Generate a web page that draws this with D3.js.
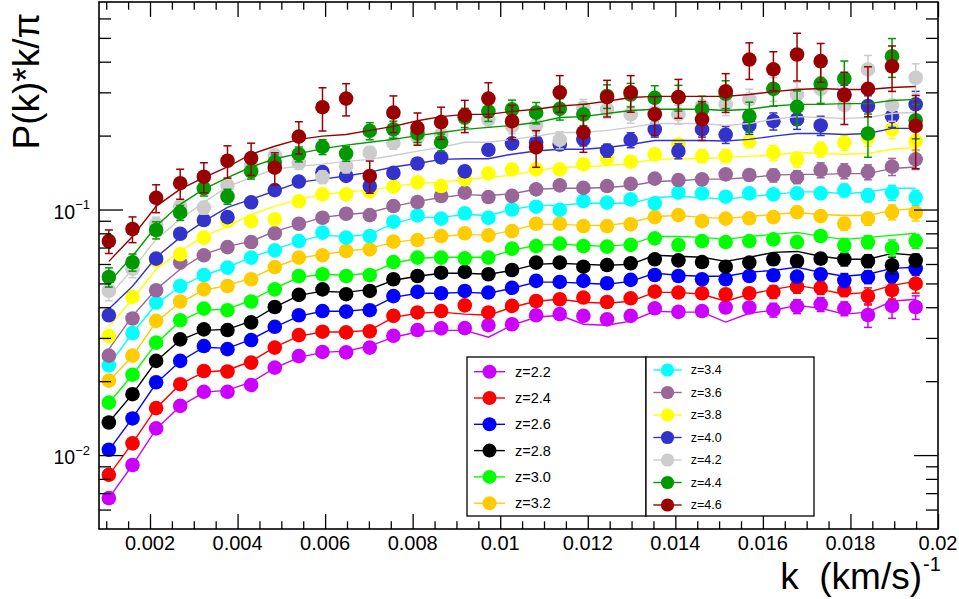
<!DOCTYPE html>
<html><head><meta charset="utf-8">
<script src="https://cdn.jsdelivr.net/npm/d3@7"></script>
<style>body{margin:0;background:#fff}svg{display:block;font-family:"Liberation Sans",Arial,Helvetica,sans-serif}</style>
</head><body><svg id="c" width="959" height="599"></svg>
<script>
// ---------------- data ----------------
const kValues = [0.00106,0.00160,0.00214,0.00269,0.00323,0.00377,0.00431,0.00485,0.00540,0.00594,
  0.00648,0.00702,0.00756,0.00811,0.00865,0.00919,0.00973,0.01027,0.01082,0.01136,
  0.01190,0.01244,0.01298,0.01353,0.01407,0.01461,0.01515,0.01569,0.01624,0.01678,
  0.01732,0.01786,0.01840,0.01895,0.01949];
const seriesLabels = ["z=2.2","z=2.4","z=2.6","z=2.8","z=3.0","z=3.2","z=3.4","z=3.6","z=3.8","z=4.0","z=4.2","z=4.4","z=4.6"];
const xTickValues = [0.002,0.004,0.006,0.008,0.01,0.012,0.014,0.016,0.018,0.02];
const xTickLabels = ["0.002","0.004","0.006","0.008","0.01","0.012","0.014","0.016","0.018","0.02"];
const xMinorTicks = [0.001,0.0015,0.0025,0.003,0.0035,0.0045,0.005,0.0055,0.0065,0.007,0.0075,0.0085,0.009,0.0095,
  0.0105,0.011,0.0115,0.0125,0.013,0.0135,0.0145,0.015,0.0155,0.0165,0.017,0.0175,0.0185,0.019,0.0195];
const yTickValues = [0.01,0.1];
const yTickExponents = ["\u22122","\u22121"];
const yMinorTicks = [0.006,0.007,0.008,0.009,0.02,0.03,0.04,0.05,0.06,0.07,0.08,0.09,0.2,0.3,0.4,0.5,0.6];

// data points P(k)*k/pi
const p22 = [0.00668,0.00911,0.01284,0.01587,0.0181,0.0181,0.0193,0.0227,0.0253,0.0263,0.0262,0.0274,0.0306,0.0323,0.0328,0.0329,0.0338,0.0341,0.0371,0.0375,0.0369,0.0357,0.0369,0.0396,0.0383,0.0386,0.0399,0.0399,0.0390,0.0403,0.0411,0.0395,0.0372,0.0405,0.0401];
const p24 = [0.00831,0.01116,0.01553,0.01944,0.0220,0.0219,0.0238,0.0274,0.0308,0.0318,0.0316,0.0319,0.0369,0.0381,0.0386,0.0407,0.0381,0.0405,0.0424,0.0431,0.0438,0.0420,0.0435,0.0463,0.0459,0.0456,0.0452,0.0456,0.0462,0.0485,0.0480,0.0470,0.0444,0.0470,0.0499];
const p26 = [0.01051,0.0141,0.0198,0.0242,0.0278,0.0270,0.0294,0.0333,0.0371,0.0386,0.0384,0.0389,0.0444,0.0462,0.0456,0.0466,0.0459,0.0480,0.0512,0.0507,0.0512,0.0501,0.0517,0.0541,0.0536,0.0520,0.0520,0.0536,0.0540,0.0533,0.0545,0.0515,0.0531,0.0536,0.0575];
const p28 = [0.01357,0.0177,0.0242,0.0296,0.0325,0.0323,0.0347,0.0401,0.0449,0.0473,0.0452,0.0466,0.0520,0.0536,0.0553,0.0557,0.0545,0.0567,0.0608,0.0608,0.0585,0.0594,0.0604,0.0627,0.0621,0.0611,0.0585,0.0608,0.0627,0.0617,0.0631,0.0627,0.0617,0.0593,0.0621];
const p30 = [0.01635,0.02125,0.0287,0.0354,0.0395,0.0389,0.0422,0.0473,0.0536,0.0545,0.0536,0.0541,0.0611,0.0637,0.0637,0.0633,0.0637,0.0693,0.0710,0.0726,0.0710,0.0706,0.0718,0.0763,0.0717,0.0744,0.0737,0.0744,0.0756,0.0737,0.0780,0.0715,0.0737,0.0699,0.0744];
const p32 = [0.0201,0.0254,0.0352,0.0422,0.0473,0.0488,0.0520,0.0583,0.0637,0.0651,0.0678,0.0688,0.0740,0.0751,0.0780,0.0800,0.0785,0.0817,0.0875,0.0875,0.0856,0.0856,0.0870,0.0931,0.0949,0.0897,0.0918,0.0921,0.0931,0.0976,0.0940,0.0875,0.0918,0.0976,0.0971];
const p34 = [0.0232,0.0314,0.0418,0.0488,0.0541,0.0580,0.0637,0.0682,0.0744,0.0805,0.0768,0.0780,0.0892,0.0946,0.0918,0.0965,0.0926,0.1000,0.1027,0.0997,0.1083,0.1067,0.110,0.106,0.1172,0.1164,0.1128,0.1164,0.1153,0.1164,0.1164,0.1197,0.1142,0.1172,0.1118];
const p36 = [0.0254,0.0360,0.0469,0.0608,0.0651,0.0703,0.0737,0.0800,0.0875,0.0926,0.0961,0.0949,0.1033,0.1073,0.1135,0.1172,0.1124,0.1137,0.1208,0.1254,0.1225,0.1246,0.1272,0.1336,0.1318,0.1327,0.139,0.1382,0.1378,0.1356,0.1448,0.1435,0.1421,0.1495,0.1600];
const p38 = [0.0305,0.0441,0.0621,0.0657,0.0768,0.0897,0.0897,0.0913,0.108,0.1153,0.1153,0.1186,0.1239,0.129,0.1246,0.1327,0.1404,0.1457,0.1457,0.1457,0.1527,0.1611,0.1566,0.1677,0.1842,0.1651,0.1651,0.1899,0.1704,0.1600,0.1758,0.1872,0.1967,0.2119,0.1899];
const p40 = [0.0371,null,0.0631,0.0797,0.0906,0.0931,0.107,0.120,0.130,0.142,0.137,0.1246,0.141,0.154,0.163,0.143,0.175,0.186,0.188,0.184,0.193,0.174,0.192,0.212,0.173,0.212,0.202,0.220,0.229,0.233,0.220,0.294,0.264,0.240,0.268];
const p42 = [0.0467,0.0573,0.0870,0.1033,0.1018,0.1254,0.151,0.166,0.155,0.1356,0.150,0.1704,0.1872,0.1967,0.202,0.240,0.233,0.219,0.220,0.192,0.260,0.256,0.244,0.249,0.244,0.264,0.268,0.281,0.310,0.294,0.310,0.266,0.372,0.266,0.344];
const p44 = [0.0531,0.0610,0.0825,0.0971,0.122,0.113,0.143,0.156,0.168,0.180,0.169,0.209,0.212,0.204,0.188,0.237,0.251,0.256,0.248,0.257,0.244,0.290,0.294,0.285,0.286,0.256,0.296,0.240,0.310,0.262,0.325,0.341,0.204,0.421,0.231];
const p46 = [0.0744,0.0833,0.1116,0.128,0.136,0.158,0.162,0.148,0.198,0.261,0.283,0.137,0.248,0.215,0.227,0.242,0.283,0.229,0.179,0.300,0.206,0.287,0.300,0.244,0.287,0.233,0.303,0.408,0.372,0.428,0.402,0.292,0.310,0.383,0.219];

// model curves
const m22 = [0.00668,0.00911,0.01276,0.01582,0.0180,0.01838,0.0198,0.0226,0.0250,0.0262,0.0265,0.0278,0.0302,0.0317,0.0322,0.0322,0.0302,0.0338,0.0364,0.0371,0.0341,0.0338,0.0351,0.0385,0.0382,0.0382,0.0348,0.0378,0.0389,0.0407,0.0396,0.0375,0.0382,0.0423,0.0431];
const m24 = [0.00829,0.01119,0.01553,0.01944,0.02175,0.02216,0.0241,0.0275,0.0305,0.0317,0.0317,0.0322,0.0364,0.0378,0.0382,0.0375,0.0371,0.0400,0.0423,0.0431,0.0419,0.0415,0.0423,0.0460,0.0460,0.0452,0.0423,0.0452,0.0473,0.0491,0.0473,0.0452,0.0460,0.0491,0.0510];
const m26 = [0.01048,0.01414,0.0196,0.0241,0.0275,0.0272,0.0296,0.0332,0.0368,0.0385,0.0385,0.0393,0.0439,0.0456,0.0456,0.0460,0.0456,0.0478,0.0506,0.0506,0.0501,0.0496,0.0510,0.0550,0.0540,0.0535,0.0535,0.0555,0.0565,0.0582,0.0555,0.0535,0.0545,0.0576,0.0582];
const m28 = [0.0136,0.0177,0.0241,0.0294,0.0322,0.0325,0.0351,0.0400,0.0447,0.0465,0.0460,0.0473,0.0515,0.0535,0.0550,0.0550,0.0545,0.0565,0.0598,0.0604,0.0598,0.0593,0.0598,0.0651,0.0645,0.0639,0.0615,0.0639,0.0669,0.0675,0.0645,0.0627,0.0627,0.0663,0.0651];
const m30 = [0.0163,0.0212,0.0285,0.0351,0.0389,0.0393,0.0427,0.0478,0.0529,0.0545,0.0540,0.0550,0.0604,0.0633,0.0639,0.0639,0.0639,0.0682,0.0715,0.0721,0.0715,0.0708,0.0721,0.0777,0.0777,0.0770,0.0756,0.0777,0.0792,0.0807,0.0777,0.0756,0.0770,0.0785,0.0800];
const m32 = [0.0200,0.0253,0.0348,0.0419,0.0469,0.0491,0.0525,0.0582,0.0633,0.0657,0.0676,0.0695,0.0735,0.0756,0.0777,0.0792,0.0785,0.0822,0.0870,0.0870,0.0862,0.0862,0.0885,0.0937,0.0946,0.0929,0.0920,0.0937,0.0955,0.0973,0.0955,0.0946,0.0946,0.0992,0.101];
const m34 = [0.0232,0.0314,0.0411,0.0487,0.0540,0.0582,0.0639,0.0688,0.0742,0.0785,0.0777,0.0792,0.0878,0.0929,0.0929,0.0955,0.0946,0.100,0.104,0.104,0.106,0.106,0.106,0.112,0.113,0.112,0.110,0.113,0.115,0.118,0.118,0.116,0.118,0.122,0.122];
const m36 = [0.0270,0.0368,0.0473,0.0571,0.0657,0.0708,0.0742,0.0815,0.0870,0.0929,0.0955,0.0973,0.103,0.108,0.112,0.115,0.114,0.116,0.121,0.122,0.122,0.123,0.125,0.130,0.131,0.133,0.133,0.135,0.138,0.139,0.139,0.140,0.140,0.147,0.149];
const m38 = [0.0334,0.0431,0.0571,0.0676,0.0777,0.0854,0.0955,0.103,0.110,0.115,0.118,0.120,0.124,0.128,0.129,0.133,0.135,0.138,0.144,0.149,0.149,0.151,0.154,0.160,0.161,0.161,0.163,0.165,0.166,0.171,0.169,0.168,0.169,0.176,0.179];
const m40 = [0.0393,0.0487,0.0639,0.0770,0.0895,0.102,0.110,0.119,0.129,0.133,0.137,0.142,0.149,0.154,0.160,0.161,0.161,0.168,0.173,0.176,0.176,0.179,0.184,0.191,0.191,0.191,0.190,0.193,0.199,0.204,0.204,0.202,0.204,0.214,0.214];
const m42 = [0.0443,0.0571,0.0756,0.0913,0.107,0.124,0.135,0.146,0.150,0.153,0.157,0.160,0.166,0.173,0.179,0.188,0.188,0.193,0.199,0.206,0.206,0.210,0.216,0.224,0.224,0.224,0.220,0.224,0.233,0.239,0.237,0.235,0.237,0.246,0.249];
const m44 = [0.0505,0.0645,0.0854,0.105,0.121,0.135,0.149,0.161,0.169,0.177,0.183,0.188,0.193,0.200,0.206,0.212,0.216,0.220,0.226,0.237,0.239,0.246,0.253,0.256,0.256,0.256,0.253,0.256,0.264,0.268,0.268,0.270,0.270,0.278,0.281];
const m46 = [0.0615,0.0777,0.103,0.121,0.135,0.149,0.168,0.181,0.193,0.199,0.202,0.210,0.218,0.230,0.239,0.244,0.244,0.251,0.256,0.264,0.268,0.276,0.286,0.289,0.289,0.289,0.289,0.294,0.302,0.308,0.311,0.308,0.308,0.314,0.317];

// relative errors in percent
const e22 = [1,1,1,1,1,1,1,1,1,1,1,1.5,1.5,1.5,1.5,1.5,1.5,2,2,2,2,3,3,4,4,4,5,5,6.5,6.5,6.5,6.5,11,11,11];
const e24 = [1,1,1,1,1,1,1,1,1,1,1,1,1,1,1,1,1,2,2,2,2,3,3,3,4,4,4,4,6,6,6,6,8,8,8.5];
const e26 = [1,1,1,1,1,1,1,1,1,1,1,1,1,1,1,1,1,2,2,2,2,2.5,3,3,3.5,3.5,4,4,5,5,5,6.5,6,6,6];
const e28 = [1,1,1,1,1,1,1,1,1,1,1,1,1,1,1,1,1,2,2,2,2,2.5,3,3,3.5,3.5,4,4,5,5,5,6,6,8,6];
const e30 = [1,1,1,1,1,1,1,1,1,1,1,1,1,1,1,1,1,2,2,2,2,2.5,3,3,3.5,3.5,4,4,5,5,5,6.5,6,7.5,6.5];
const e32 = [1,1,1,1,1,1,1,1,1,1,1,1,1,1,1,1,1.5,2,2,2,2,2.5,3,3,3.5,3.5,4,4,5,5,5,6,6,7,7.5];
const e34 = [1,1,1,1,1,1,1,1,1,1,1,1.5,1.5,1.5,1.5,1.5,2,2,2,2.5,2.5,3,3,3.5,3.5,4,4,4.5,5,5,5,6,6,7,7];
const e36 = [1.5,1.5,1.5,1.5,1.5,1.5,1.5,1.5,1.5,1.5,1.5,1.5,2,2,2,2,2,3,3,3,3,4,4,4,4,5,5,5,6,6,7,7,7,8,9];
const e38 = [2,2,2,2,2,2,2,2,2,2,3,3,3,3,3,3,3,4,4,4,4,5,5,5,5,6,6,6,7,7,7,7,8,8,9];
const e40 = [3,3,3,3,3,3,4,4,4,4,4,4,5,5,5,5,5,5,5,5,6,6,7,7,7,7,8,8,8,9,9,9,10,10,13];
const e42 = [9,8,7,6,6,6,6,6,6,6,6,6,6,6,7,7,7,7,7,8,8,8,8,9,9,9,10,10,11,12,12,12,14,14,14];
const e44 = [9,8,8,7,7,7,7,7,7,7,7,8,8,8,8,9,9,9,10,10,10,11,11,12,12,13,13,14,15,16,17,18,20,18,16];
const e46 = [11,12,13,14,14,15,15,15,15,20,15,15,17,15,15,15,16,16,17,17,17,17,17,18,18,18,18,17,18,22,18,24,23,21,33];

// ---------------- styles ----------------
const seriesColors = ["#cc00ff","#ff0000","#0000ff","#000000","#00ff00","#ffcc00","#00ffff","#996699","#ffff00","#3333cc","#cccccc","#009900","#990000"];
const pointSets = [p22,p24,p26,p28,p30,p32,p34,p36,p38,p40,p42,p44,p46];
const modelSets = [m22,m24,m26,m28,m30,m32,m34,m36,m38,m40,m42,m44,m46];
const errorSets = [e22,e24,e26,e28,e30,e32,e34,e36,e38,e40,e42,e44,e46];
const series = seriesLabels.map((label,i)=>({label,color:seriesColors[i],values:pointSets[i],model:modelSets[i],errors:errorSets[i]}));

const frame = {left:99, right:938, top:2, bottom:529};
const x = d3.scaleLinear().domain([0.000835,0.02]).range([frame.left,frame.right]);
const y = d3.scaleLog().domain([0.005,0.7]).range([frame.bottom,frame.top]);

const svg = d3.select("#c");
svg.append("rect").attr("width",959).attr("height",599).attr("fill","#fff");
svg.append("defs").append("clipPath").attr("id","clip").append("rect")
  .attr("x",frame.left).attr("y",frame.top).attr("width",frame.right-frame.left).attr("height",frame.bottom-frame.top);

const plot = svg.append("g").attr("clip-path","url(#clip)");
const line = d3.line().defined(d=>d[1]!=null).x(d=>x(d[0])).y(d=>y(d[1]));
const R = 7.3, CAP = 4;

series.forEach(s=>{
  const gs = plot.append("g");
  gs.append("path").datum(kValues.map((k,i)=>[k,s.model[i]])).attr("d",line)
    .attr("fill","none").attr("stroke",s.color).attr("stroke-width",1.4);
  const pts = kValues.map((k,i)=>({k,v:s.values[i],e:s.errors[i]})).filter(d=>d.v!=null);
  const eb = gs.append("g").attr("stroke",s.color).attr("stroke-width",1.5);
  pts.forEach(d=>{
    const cx = x(d.k), yHi = y(d.v*(1+d.e/100)), yLo = y(d.v*(1-d.e/100));
    eb.append("line").attr("x1",cx).attr("x2",cx).attr("y1",yHi).attr("y2",yLo);
    eb.append("line").attr("x1",cx-CAP).attr("x2",cx+CAP).attr("y1",yHi).attr("y2",yHi);
    eb.append("line").attr("x1",cx-CAP).attr("x2",cx+CAP).attr("y1",yLo).attr("y2",yLo);
  });
  gs.selectAll("circle").data(pts).join("circle")
    .attr("cx",d=>x(d.k)).attr("cy",d=>y(d.v)).attr("r",R).attr("fill",s.color);
});

// ---------------- axes ----------------
function drawAxis(axis, tr){
  const gA = svg.append("g").attr("transform",tr).call(axis);
  gA.select(".domain").remove();
  gA.selectAll("text").remove();
  gA.selectAll("line").attr("stroke","#000").attr("stroke-width",1.3);
}
drawAxis(d3.axisBottom(x).tickValues(xTickValues).tickSize(-15), `translate(0,${frame.bottom})`);
drawAxis(d3.axisBottom(x).tickValues(xMinorTicks).tickSize(-7.7), `translate(0,${frame.bottom})`);
drawAxis(d3.axisTop(x).tickValues(xTickValues).tickSize(-15), `translate(0,${frame.top})`);
drawAxis(d3.axisTop(x).tickValues(xMinorTicks).tickSize(-7.7), `translate(0,${frame.top})`);
drawAxis(d3.axisLeft(y).tickValues(yTickValues).tickSize(-24), `translate(${frame.left},0)`);
drawAxis(d3.axisLeft(y).tickValues(yMinorTicks).tickSize(-12), `translate(${frame.left},0)`);
drawAxis(d3.axisRight(y).tickValues(yTickValues).tickSize(-24), `translate(${frame.right},0)`);
drawAxis(d3.axisRight(y).tickValues(yMinorTicks).tickSize(-12), `translate(${frame.right},0)`);

svg.append("rect").attr("x",frame.left).attr("y",frame.top)
  .attr("width",frame.right-frame.left).attr("height",frame.bottom-frame.top)
  .attr("fill","none").attr("stroke","#000").attr("stroke-width",1.6);

// x tick labels
svg.append("g").selectAll("text").data(xTickValues).join("text")
  .attr("x",d=>x(d)).attr("y",550).attr("text-anchor","middle")
  .attr("font-size",20).text((d,i)=>xTickLabels[i]);

// y tick labels
yTickValues.forEach((v,i)=>{
  const t = svg.append("text").attr("x",90).attr("y",y(v)+9).attr("text-anchor","end").attr("font-size",19.5);
  t.append("tspan").text("10");
  t.append("tspan").attr("font-size",13).attr("dy",-9.5).text(yTickExponents[i]);
});

// axis titles
svg.append("text").attr("transform","translate(39,13) rotate(-90)").attr("text-anchor","end")
  .attr("font-size",37).text("P(k)*k/\u03c0");
svg.append("text").attr("x",922).attr("y",589).attr("text-anchor","end")
  .attr("font-size",37).style("white-space","pre").text("k  (km/s)");
svg.append("text").attr("x",923).attr("y",571).attr("font-size",20).text("-1");

// ---------------- legend ----------------
const legendBoxes = [
  {x0:467,y0:357,x1:646,y1:516,items:series.slice(0,6),rowY:371.7,step:26.3,mx:489.5,lh:15.5,tx:515,fs:14.5,r:7},
  {x0:646,y0:357,x1:814,y1:516,items:series.slice(6),rowY:370,step:22.5,mx:667.5,lh:14.2,tx:690.7,fs:12.5,r:6.6}
];
legendBoxes.forEach(b=>{
  const g = svg.append("g");
  g.append("rect").attr("x",b.x0).attr("y",b.y0).attr("width",b.x1-b.x0).attr("height",b.y1-b.y0)
    .attr("fill","#fff").attr("stroke","#000").attr("stroke-width",1.3);
  b.items.forEach((s,i)=>{
    const cy = b.rowY + i*b.step;
    g.append("line").attr("x1",b.mx-b.lh).attr("x2",b.mx+b.lh).attr("y1",cy).attr("y2",cy)
      .attr("stroke",s.color).attr("stroke-width",1.4);
    g.append("circle").attr("cx",b.mx).attr("cy",cy).attr("r",b.r).attr("fill",s.color);
    g.append("text").attr("x",b.tx).attr("y",cy).attr("dy","0.35em").attr("font-size",b.fs).text(s.label);
  });
});
</script>
</body></html>
